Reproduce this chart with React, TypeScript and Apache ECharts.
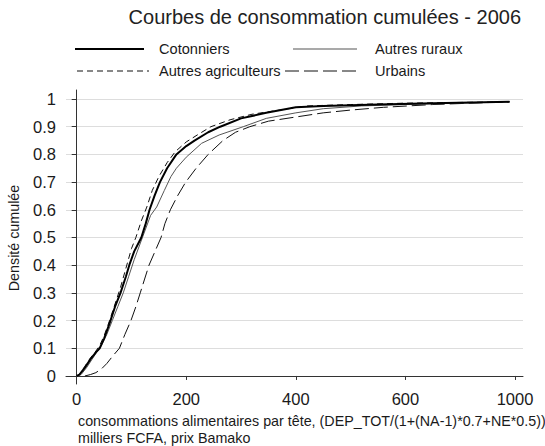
import React, { useEffect, useRef } from "react";
import * as echarts from "echarts";

const FONT = "'Liberation Sans', Arial, Helvetica, sans-serif";

const titleText = "Courbes de consommation cumulées - 2006";
const yAxisTitle = "Densité cumulée";
const xAxisTitleLine1 = "consommations alimentaires par tête, (DEP_TOT/(1+(NA-1)*0.7+NE*0.5))";
const xAxisTitleLine2 = "milliers FCFA, prix Bamako";

const seriesNames = ["Cotonniers", "Autres ruraux", "Autres agriculteurs", "Urbains"];

const xTickValues = [0, 200, 400, 600, 800];
const xTickLabels = ["0", "200", "400", "600", "1000"];
const yTickValues = [0, 0.1, 0.2, 0.3, 0.4, 0.5, 0.6, 0.7, 0.8, 0.9, 1];
const yTickLabels = ["0", "0.1", "0.2", "0.3", "0.4", "0.5", "0.6", "0.7", "0.8", "0.9", "1"];

// Cotonniers
const cotX = [0, 5, 15, 25, 35, 42, 50, 60, 70, 80, 90, 96, 105, 118, 126, 133, 142, 152, 165, 182, 200, 215, 240, 262, 300, 346, 400, 450, 550, 650, 790];
const cotY = [0, 0.005, 0.03, 0.06, 0.085, 0.1, 0.135, 0.19, 0.25, 0.3, 0.36, 0.4, 0.45, 0.5, 0.55, 0.6, 0.65, 0.7, 0.75, 0.8, 0.83, 0.85, 0.88, 0.9, 0.93, 0.95, 0.97, 0.975, 0.98, 0.985, 0.99];

// Autres ruraux
const rurX = [0, 8, 18, 28, 38, 45, 55, 65, 75, 85, 95, 105, 120, 135, 146, 160, 172, 182, 200, 228, 260, 304, 346, 400, 450, 520, 600, 700, 790];
const rurY = [0, 0.005, 0.03, 0.06, 0.09, 0.11, 0.15, 0.2, 0.25, 0.3, 0.36, 0.42, 0.5, 0.58, 0.61, 0.67, 0.72, 0.75, 0.79, 0.84, 0.87, 0.9, 0.93, 0.95, 0.965, 0.975, 0.98, 0.985, 0.99];

// Autres agriculteurs
const agrX = [0, 5, 15, 25, 35, 42, 50, 60, 70, 80, 90, 100, 108, 118, 128, 138, 150, 165, 180, 200, 220, 245, 280, 320, 370, 420, 500, 600, 790];
const agrY = [0, 0.005, 0.035, 0.065, 0.09, 0.11, 0.145, 0.2, 0.26, 0.32, 0.39, 0.46, 0.5, 0.56, 0.61, 0.67, 0.72, 0.77, 0.81, 0.845, 0.87, 0.9, 0.925, 0.945, 0.96, 0.975, 0.98, 0.985, 0.99];

// Urbains
const urbX = [15, 25, 35, 45, 55, 65, 78, 88, 99, 108, 116, 124, 132, 143, 154, 161, 171, 184, 199, 218, 240, 267, 290, 316, 350, 400, 450, 500, 560, 650, 790];
const urbY = [0, 0.005, 0.012, 0.025, 0.045, 0.07, 0.1, 0.15, 0.2, 0.25, 0.3, 0.35, 0.4, 0.45, 0.5, 0.55, 0.6, 0.65, 0.7, 0.75, 0.8, 0.85, 0.88, 0.9, 0.92, 0.935, 0.95, 0.96, 0.97, 0.98, 0.99];

const zip = (xs: number[], ys: number[]) => xs.map((x, i) => [x, ys[i]]);

export default function App() {
  const ref = useRef<HTMLDivElement>(null);

  useEffect(() => {
    if (!ref.current) return;
    const chart = echarts.init(ref.current, undefined, { renderer: "svg" });

    const textColor = "#1a1a1a";
    const legendRows = [
      { name: seriesNames[0], x1: 75, x2: 144, tx: 159, y: 49, color: "#000", width: 2, dash: null as number[] | null },
      { name: seriesNames[1], x1: 293, x2: 357, tx: 375, y: 49, color: "#555", width: 1.2, dash: null },
      { name: seriesNames[2], x1: 77, x2: 149, tx: 159, y: 71, color: "#111", width: 1, dash: [6, 4] },
      { name: seriesNames[3], x1: 285, x2: 357, tx: 375, y: 71, color: "#111", width: 1, dash: [14, 5] },
    ];

    const graphics: any[] = [];
    legendRows.forEach((r) => {
      graphics.push({
        type: "line",
        shape: { x1: r.x1, y1: r.y, x2: r.x2, y2: r.y },
        style: { stroke: r.color, lineWidth: r.width, lineDash: r.dash || undefined },
      });
      graphics.push({
        type: "text",
        x: r.tx,
        y: r.y,
        style: { text: r.name, font: `14.6px ${FONT}`, fill: textColor, verticalAlign: "middle" },
      });
    });
    graphics.push({
      type: "text",
      x: 14,
      y: 238,
      rotation: Math.PI / 2,
      style: { text: yAxisTitle, font: `14.3px ${FONT}`, fill: textColor, align: "center", verticalAlign: "middle" },
    });
    graphics.push({
      type: "text",
      x: 78,
      y: 420.5,
      style: { text: xAxisTitleLine1, font: `14.3px ${FONT}`, fill: textColor, align: "left", verticalAlign: "middle" },
    });
    graphics.push({
      type: "text",
      x: 78,
      y: 437.5,
      style: { text: xAxisTitleLine2, font: `14.3px ${FONT}`, fill: textColor, align: "left", verticalAlign: "middle" },
    });

    const lineSeries = (name: string, data: number[][], color: string, width: number, type: any, z: number) => ({
      name,
      type: "line",
      data,
      showSymbol: false,
      symbol: "none",
      smooth: false,
      z,
      lineStyle: { color, width, type },
      emphasis: { disabled: true },
    });

    chart.setOption({
      animation: false,
      backgroundColor: "#ffffff",
      title: {
        text: titleText,
        right: 24,
        top: 7,
        padding: 0,
        textStyle: { fontFamily: FONT, fontSize: 20, fontWeight: "normal", color: "#222" },
      },
      grid: { left: 66, right: 22, top: 90, bottom: 62, containLabel: false },
      xAxis: {
        type: "value",
        min: -19.5,
        max: 814.6,
        axisLine: { show: true, lineStyle: { color: "#333", width: 1 } },
        axisTick: { show: true, inside: false, length: 4, lineStyle: { color: "#333" }, customValues: xTickValues },
        axisLabel: {
          customValues: xTickValues,
          margin: 6,
          fontFamily: FONT,
          fontSize: 16.5,
          color: textColor,
          formatter: (v: number) => {
            const i = xTickValues.indexOf(v);
            return i >= 0 ? xTickLabels[i] : "";
          },
        },
        splitLine: { show: false },
      },
      yAxis: {
        type: "value",
        min: -0.029,
        max: 1.0325,
        axisLine: { show: true, lineStyle: { color: "#333", width: 1 } },
        axisTick: { show: true, inside: false, length: 5, lineStyle: { color: "#333" }, customValues: yTickValues },
        axisLabel: {
          customValues: yTickValues,
          margin: 10,
          fontFamily: FONT,
          fontSize: 16.5,
          color: textColor,
          formatter: (v: number) => {
            const i = yTickValues.findIndex((t) => Math.abs(t - v) < 1e-9);
            return i >= 0 ? yTickLabels[i] : "";
          },
        },
        splitLine: { show: true, lineStyle: { color: "#dddddd", width: 1 } },
      },
      graphic: graphics,
      series: [
        lineSeries(seriesNames[3], zip(urbX, urbY), "#111", 1, [14, 5], 2),
        lineSeries(seriesNames[1], zip(rurX, rurY), "#555", 1, "solid", 3),
        lineSeries(seriesNames[2], zip(agrX, agrY), "#111", 1, [6, 4], 4),
        lineSeries(seriesNames[0], zip(cotX, cotY), "#000", 2, "solid", 5),
      ],
    });

    return () => chart.dispose();
  }, []);

  return (
    <div
      ref={ref}
      style={{ position: "absolute", left: 0, top: 0, width: 545, height: 446, background: "#fff" }}
    />
  );
}
